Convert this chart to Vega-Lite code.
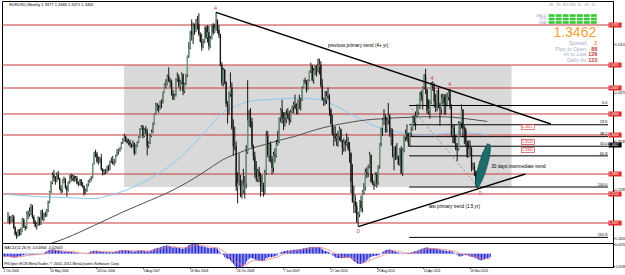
{
"$schema":"https://vega.github.io/schema/vega-lite/v6.json",
"padding":0,"spacing":0,"bounds":"flush","background":"#ffffff",
"config":{"view":{"stroke":"#000000","strokeWidth":1},"axis":{"labelFont":"Liberation Sans","labelFontSize":3.6,"labelColor":"#000000","tickSize":1.2,"tickColor":"#000000","domainColor":"#000000","labelPadding":0.4,"grid":false,"labelOverlap":false,"labelFlush":false},"axisX":{"labelOverlap":false},"text":{"font":"Liberation Sans"}},
"datasets":{
"px":[
{"w":0,"o":1.203,"h":1.216,"l":1.195,"c":1.206,"m":-0.012,"s":-0.011},
{"w":1,"o":1.206,"h":1.209,"l":1.192,"c":1.199,"m":-0.013,"s":-0.011},
{"w":2,"o":1.199,"h":1.208,"l":1.195,"c":1.202,"m":-0.013,"s":-0.012},
{"w":3,"o":1.202,"h":1.211,"l":1.197,"c":1.207,"m":-0.012,"s":-0.012},
{"w":4,"o":1.207,"h":1.21,"l":1.183,"c":1.186,"m":-0.013,"s":-0.012},
{"w":5,"o":1.186,"h":1.188,"l":1.17,"c":1.173,"m":-0.015,"s":-0.013},
{"w":6,"o":1.173,"h":1.178,"l":1.164,"c":1.169,"m":-0.017,"s":-0.013},
{"w":7,"o":1.169,"h":1.183,"l":1.168,"c":1.179,"m":-0.017,"s":-0.014},
{"w":8,"o":1.179,"h":1.183,"l":1.17,"c":1.172,"m":-0.017,"s":-0.015},
{"w":9,"o":1.172,"h":1.186,"l":1.171,"c":1.179,"m":-0.016,"s":-0.015},
{"w":10,"o":1.179,"h":1.205,"l":1.178,"c":1.201,"m":-0.013,"s":-0.015},
{"w":11,"o":1.201,"h":1.204,"l":1.185,"c":1.188,"m":-0.012,"s":-0.014},
{"w":12,"o":1.188,"h":1.19,"l":1.18,"c":1.185,"m":-0.012,"s":-0.014},
{"w":13,"o":1.185,"h":1.217,"l":1.183,"c":1.214,"m":-0.009,"s":-0.013},
{"w":14,"o":1.214,"h":1.219,"l":1.202,"c":1.212,"m":-0.007,"s":-0.012},
{"w":15,"o":1.212,"h":1.225,"l":1.207,"c":1.217,"m":-0.005,"s":-0.01},
{"w":16,"o":1.217,"h":1.232,"l":1.21,"c":1.228,"m":-0.003,"s":-0.009},
{"w":17,"o":1.228,"h":1.23,"l":1.203,"c":1.206,"m":-0.003,"s":-0.008},
{"w":18,"o":1.206,"h":1.21,"l":1.193,"c":1.196,"m":-0.004,"s":-0.007},
{"w":19,"o":1.196,"h":1.2,"l":1.186,"c":1.188,"m":-0.005,"s":-0.006},
{"w":20,"o":1.188,"h":1.196,"l":1.182,"c":1.193,"m":-0.005,"s":-0.006},
{"w":21,"o":1.193,"h":1.208,"l":1.189,"c":1.205,"m":-0.004,"s":-0.005},
{"w":22,"o":1.205,"h":1.206,"l":1.19,"c":1.192,"m":-0.004,"s":-0.005},
{"w":23,"o":1.192,"h":1.22,"l":1.191,"c":1.217,"m":-0.002,"s":-0.004},
{"w":24,"o":1.217,"h":1.221,"l":1.2,"c":1.203,"m":-0.002,"s":-0.004},
{"w":25,"o":1.203,"h":1.214,"l":1.198,"c":1.212,"m":-0.001,"s":-0.003},
{"w":26,"o":1.212,"h":1.217,"l":1.206,"c":1.21,"m":-0.001,"s":-0.003},
{"w":27,"o":1.21,"h":1.222,"l":1.207,"c":1.219,"m":0,"s":-0.002},
{"w":28,"o":1.219,"h":1.238,"l":1.216,"c":1.235,"m":0.003,"s":-0.001},
{"w":29,"o":1.235,"h":1.257,"l":1.233,"c":1.255,"m":0.007,"s":0},
{"w":30,"o":1.255,"h":1.276,"l":1.253,"c":1.273,"m":0.011,"s":0.003},
{"w":31,"o":1.273,"h":1.293,"l":1.27,"c":1.288,"m":0.015,"s":0.005},
{"w":32,"o":1.288,"h":1.298,"l":1.275,"c":1.282,"m":0.017,"s":0.008},
{"w":33,"o":1.282,"h":1.286,"l":1.269,"c":1.276,"m":0.018,"s":0.01},
{"w":34,"o":1.276,"h":1.293,"l":1.274,"c":1.289,"m":0.019,"s":0.012},
{"w":35,"o":1.289,"h":1.296,"l":1.278,"c":1.28,"m":0.019,"s":0.013},
{"w":36,"o":1.28,"h":1.283,"l":1.259,"c":1.261,"m":0.017,"s":0.014},
{"w":37,"o":1.261,"h":1.268,"l":1.252,"c":1.257,"m":0.014,"s":0.015},
{"w":38,"o":1.257,"h":1.28,"l":1.254,"c":1.279,"m":0.014,"s":0.015},
{"w":39,"o":1.279,"h":1.285,"l":1.272,"c":1.28,"m":0.013,"s":0.015},
{"w":40,"o":1.28,"h":1.282,"l":1.261,"c":1.264,"m":0.011,"s":0.014},
{"w":41,"o":1.264,"h":1.268,"l":1.246,"c":1.258,"m":0.009,"s":0.013},
{"w":42,"o":1.258,"h":1.276,"l":1.256,"c":1.274,"m":0.009,"s":0.012},
{"w":43,"o":1.274,"h":1.288,"l":1.271,"c":1.287,"m":0.009,"s":0.011},
{"w":44,"o":1.287,"h":1.291,"l":1.275,"c":1.281,"m":0.009,"s":0.011},
{"w":45,"o":1.281,"h":1.289,"l":1.277,"c":1.286,"m":0.009,"s":0.01},
{"w":46,"o":1.286,"h":1.288,"l":1.274,"c":1.277,"m":0.008,"s":0.01},
{"w":47,"o":1.277,"h":1.286,"l":1.276,"c":1.282,"m":0.008,"s":0.009},
{"w":48,"o":1.282,"h":1.286,"l":1.27,"c":1.272,"m":0.006,"s":0.009},
{"w":49,"o":1.272,"h":1.276,"l":1.266,"c":1.27,"m":0.005,"s":0.008},
{"w":50,"o":1.27,"h":1.28,"l":1.268,"c":1.279,"m":0.005,"s":0.007},
{"w":51,"o":1.279,"h":1.28,"l":1.266,"c":1.268,"m":0.003,"s":0.006},
{"w":52,"o":1.268,"h":1.274,"l":1.263,"c":1.266,"m":0.002,"s":0.005},
{"w":53,"o":1.266,"h":1.268,"l":1.248,"c":1.253,"m":0,"s":0.004},
{"w":54,"o":1.253,"h":1.261,"l":1.251,"c":1.258,"m":-0.001,"s":0.003},
{"w":55,"o":1.258,"h":1.271,"l":1.255,"c":1.27,"m":-0.001,"s":0.002},
{"w":56,"o":1.27,"h":1.278,"l":1.266,"c":1.275,"m":0,"s":0.002},
{"w":57,"o":1.275,"h":1.282,"l":1.272,"c":1.28,"m":0.001,"s":0.001},
{"w":58,"o":1.28,"h":1.286,"l":1.276,"c":1.282,"m":0.002,"s":0.001},
{"w":59,"o":1.282,"h":1.31,"l":1.281,"c":1.309,"m":0.005,"s":0.002},
{"w":60,"o":1.309,"h":1.333,"l":1.308,"c":1.33,"m":0.009,"s":0.003},
{"w":61,"o":1.33,"h":1.337,"l":1.322,"c":1.329,"m":0.012,"s":0.005},
{"w":62,"o":1.329,"h":1.333,"l":1.311,"c":1.314,"m":0.013,"s":0.007},
{"w":63,"o":1.314,"h":1.324,"l":1.308,"c":1.315,"m":0.013,"s":0.008},
{"w":64,"o":1.315,"h":1.323,"l":1.312,"c":1.32,"m":0.014,"s":0.009},
{"w":65,"o":1.32,"h":1.329,"l":1.296,"c":1.299,"m":0.012,"s":0.01},
{"w":66,"o":1.299,"h":1.301,"l":1.287,"c":1.293,"m":0.01,"s":0.01},
{"w":67,"o":1.293,"h":1.299,"l":1.288,"c":1.296,"m":0.009,"s":0.01},
{"w":68,"o":1.296,"h":1.3,"l":1.29,"c":1.296,"m":0.008,"s":0.01},
{"w":69,"o":1.296,"h":1.306,"l":1.292,"c":1.303,"m":0.007,"s":0.01},
{"w":70,"o":1.303,"h":1.308,"l":1.295,"c":1.298,"m":0.006,"s":0.009},
{"w":71,"o":1.298,"h":1.316,"l":1.297,"c":1.315,"m":0.007,"s":0.009},
{"w":72,"o":1.315,"h":1.322,"l":1.311,"c":1.314,"m":0.007,"s":0.008},
{"w":73,"o":1.314,"h":1.325,"l":1.308,"c":1.31,"m":0.006,"s":0.008},
{"w":74,"o":1.31,"h":1.319,"l":1.306,"c":1.312,"m":0.006,"s":0.007},
{"w":75,"o":1.312,"h":1.327,"l":1.311,"c":1.325,"m":0.007,"s":0.007},
{"w":76,"o":1.325,"h":1.338,"l":1.324,"c":1.333,"m":0.008,"s":0.007},
{"w":77,"o":1.333,"h":1.339,"l":1.328,"c":1.336,"m":0.01,"s":0.008},
{"w":78,"o":1.336,"h":1.342,"l":1.333,"c":1.34,"m":0.011,"s":0.008},
{"w":79,"o":1.34,"h":1.352,"l":1.338,"c":1.35,"m":0.013,"s":0.009},
{"w":80,"o":1.35,"h":1.359,"l":1.348,"c":1.355,"m":0.015,"s":0.01},
{"w":81,"o":1.355,"h":1.368,"l":1.353,"c":1.362,"m":0.016,"s":0.011},
{"w":82,"o":1.362,"h":1.364,"l":1.352,"c":1.355,"m":0.016,"s":0.012},
{"w":83,"o":1.355,"h":1.359,"l":1.349,"c":1.351,"m":0.015,"s":0.013},
{"w":84,"o":1.351,"h":1.358,"l":1.346,"c":1.353,"m":0.015,"s":0.013},
{"w":85,"o":1.353,"h":1.356,"l":1.342,"c":1.348,"m":0.014,"s":0.014},
{"w":86,"o":1.348,"h":1.349,"l":1.34,"c":1.345,"m":0.013,"s":0.014},
{"w":87,"o":1.345,"h":1.355,"l":1.342,"c":1.35,"m":0.012,"s":0.014},
{"w":88,"o":1.35,"h":1.351,"l":1.326,"c":1.331,"m":0.01,"s":0.013},
{"w":89,"o":1.331,"h":1.347,"l":1.329,"c":1.345,"m":0.01,"s":0.013},
{"w":90,"o":1.345,"h":1.353,"l":1.342,"c":1.352,"m":0.01,"s":0.012},
{"w":91,"o":1.352,"h":1.363,"l":1.35,"c":1.361,"m":0.011,"s":0.012},
{"w":92,"o":1.361,"h":1.379,"l":1.36,"c":1.377,"m":0.013,"s":0.012},
{"w":93,"o":1.377,"h":1.385,"l":1.376,"c":1.382,"m":0.015,"s":0.012},
{"w":94,"o":1.382,"h":1.385,"l":1.359,"c":1.363,"m":0.014,"s":0.012},
{"w":95,"o":1.363,"h":1.379,"l":1.361,"c":1.377,"m":0.014,"s":0.013},
{"w":96,"o":1.377,"h":1.383,"l":1.367,"c":1.372,"m":0.014,"s":0.013},
{"w":97,"o":1.372,"h":1.378,"l":1.326,"c":1.344,"m":0.011,"s":0.013},
{"w":98,"o":1.344,"h":1.353,"l":1.34,"c":1.35,"m":0.01,"s":0.013},
{"w":99,"o":1.35,"h":1.368,"l":1.348,"c":1.364,"m":0.01,"s":0.012},
{"w":100,"o":1.364,"h":1.376,"l":1.362,"c":1.372,"m":0.011,"s":0.012},
{"w":101,"o":1.372,"h":1.39,"l":1.369,"c":1.388,"m":0.013,"s":0.012},
{"w":102,"o":1.388,"h":1.408,"l":1.386,"c":1.407,"m":0.016,"s":0.012},
{"w":103,"o":1.407,"h":1.428,"l":1.405,"c":1.425,"m":0.02,"s":0.014},
{"w":104,"o":1.425,"h":1.428,"l":1.412,"c":1.423,"m":0.023,"s":0.016},
{"w":105,"o":1.423,"h":1.424,"l":1.409,"c":1.418,"m":0.024,"s":0.017},
{"w":106,"o":1.418,"h":1.432,"l":1.415,"c":1.43,"m":0.026,"s":0.019},
{"w":107,"o":1.43,"h":1.435,"l":1.418,"c":1.43,"m":0.027,"s":0.021},
{"w":108,"o":1.43,"h":1.45,"l":1.427,"c":1.449,"m":0.029,"s":0.022},
{"w":109,"o":1.449,"h":1.466,"l":1.448,"c":1.464,"m":0.032,"s":0.024},
{"w":110,"o":1.464,"h":1.474,"l":1.456,"c":1.464,"m":0.034,"s":0.026},
{"w":111,"o":1.464,"h":1.483,"l":1.462,"c":1.48,"m":0.036,"s":0.028},
{"w":112,"o":1.48,"h":1.497,"l":1.468,"c":1.47,"m":0.037,"s":0.03},
{"w":113,"o":1.47,"h":1.476,"l":1.458,"c":1.468,"m":0.037,"s":0.032},
{"w":114,"o":1.468,"h":1.473,"l":1.442,"c":1.445,"m":0.034,"s":0.033},
{"w":115,"o":1.445,"h":1.453,"l":1.433,"c":1.435,"m":0.03,"s":0.032},
{"w":116,"o":1.435,"h":1.446,"l":1.434,"c":1.443,"m":0.028,"s":0.031},
{"w":117,"o":1.443,"h":1.476,"l":1.44,"c":1.475,"m":0.028,"s":0.031},
{"w":118,"o":1.475,"h":1.487,"l":1.469,"c":1.478,"m":0.029,"s":0.03},
{"w":119,"o":1.478,"h":1.483,"l":1.458,"c":1.462,"m":0.027,"s":0.03},
{"w":120,"o":1.462,"h":1.473,"l":1.451,"c":1.468,"m":0.026,"s":0.029},
{"w":121,"o":1.468,"h":1.487,"l":1.464,"c":1.483,"m":0.026,"s":0.028},
{"w":122,"o":1.483,"h":1.485,"l":1.443,"c":1.45,"m":0.023,"s":0.027},
{"w":123,"o":1.45,"h":1.467,"l":1.447,"c":1.465,"m":0.022,"s":0.026},
{"w":124,"o":1.465,"h":1.484,"l":1.462,"c":1.482,"m":0.023,"s":0.025},
{"w":125,"o":1.482,"h":1.52,"l":1.478,"c":1.519,"m":0.027,"s":0.026},
{"w":126,"o":1.519,"h":1.546,"l":1.515,"c":1.535,"m":0.031,"s":0.027},
{"w":127,"o":1.535,"h":1.568,"l":1.532,"c":1.566,"m":0.037,"s":0.029},
{"w":128,"o":1.566,"h":1.59,"l":1.549,"c":1.56,"m":0.04,"s":0.031},
{"w":129,"o":1.56,"h":1.584,"l":1.542,"c":1.578,"m":0.043,"s":0.034},
{"w":130,"o":1.578,"h":1.582,"l":1.56,"c":1.572,"m":0.044,"s":0.036},
{"w":131,"o":1.572,"h":1.591,"l":1.565,"c":1.58,"m":0.045,"s":0.038},
{"w":132,"o":1.58,"h":1.597,"l":1.57,"c":1.58,"m":0.045,"s":0.039},
{"w":133,"o":1.58,"h":1.602,"l":1.558,"c":1.561,"m":0.043,"s":0.04},
{"w":134,"o":1.561,"h":1.565,"l":1.545,"c":1.547,"m":0.039,"s":0.04},
{"w":135,"o":1.547,"h":1.562,"l":1.529,"c":1.537,"m":0.035,"s":0.039},
{"w":136,"o":1.537,"h":1.552,"l":1.534,"c":1.547,"m":0.033,"s":0.038},
{"w":137,"o":1.547,"h":1.576,"l":1.544,"c":1.574,"m":0.033,"s":0.037},
{"w":138,"o":1.574,"h":1.578,"l":1.552,"c":1.555,"m":0.031,"s":0.036},
{"w":139,"o":1.555,"h":1.579,"l":1.545,"c":1.565,"m":0.03,"s":0.035},
{"w":140,"o":1.565,"h":1.578,"l":1.53,"c":1.538,"m":0.027,"s":0.033},
{"w":141,"o":1.538,"h":1.558,"l":1.535,"c":1.554,"m":0.025,"s":0.031},
{"w":142,"o":1.554,"h":1.58,"l":1.551,"c":1.578,"m":0.026,"s":0.03},
{"w":143,"o":1.578,"h":1.583,"l":1.56,"c":1.564,"m":0.025,"s":0.029},
{"w":144,"o":1.564,"h":1.581,"l":1.563,"c":1.573,"m":0.025,"s":0.028},
{"w":145,"o":1.573,"h":1.604,"l":1.568,"c":1.586,"m":0.026,"s":0.028},
{"w":146,"o":1.586,"h":1.59,"l":1.563,"c":1.57,"m":0.025,"s":0.027},
{"w":147,"o":1.57,"h":1.579,"l":1.554,"c":1.56,"m":0.022,"s":0.026},
{"w":148,"o":1.56,"h":1.562,"l":1.499,"c":1.501,"m":0.014,"s":0.024},
{"w":149,"o":1.501,"h":1.507,"l":1.462,"c":1.468,"m":0.004,"s":0.02},
{"w":150,"o":1.468,"h":1.496,"l":1.46,"c":1.492,"m":-0.001,"s":0.016},
{"w":151,"o":1.492,"h":1.494,"l":1.464,"c":1.468,"m":-0.007,"s":0.011},
{"w":152,"o":1.468,"h":1.47,"l":1.42,"c":1.427,"m":-0.015,"s":0.006},
{"w":153,"o":1.427,"h":1.431,"l":1.388,"c":1.425,"m":-0.021,"s":0},
{"w":154,"o":1.425,"h":1.45,"l":1.405,"c":1.445,"m":-0.024,"s":-0.005},
{"w":155,"o":1.445,"h":1.487,"l":1.44,"c":1.458,"m":-0.025,"s":-0.009},
{"w":156,"o":1.458,"h":1.468,"l":1.376,"c":1.378,"m":-0.032,"s":-0.013},
{"w":157,"o":1.378,"h":1.396,"l":1.326,"c":1.344,"m":-0.04,"s":-0.019},
{"w":158,"o":1.344,"h":1.382,"l":1.336,"c":1.344,"m":-0.046,"s":-0.024},
{"w":159,"o":1.344,"h":1.353,"l":1.257,"c":1.266,"m":-0.056,"s":-0.031},
{"w":160,"o":1.266,"h":1.293,"l":1.233,"c":1.272,"m":-0.06,"s":-0.037},
{"w":161,"o":1.272,"h":1.33,"l":1.268,"c":1.275,"m":-0.062,"s":-0.042},
{"w":162,"o":1.275,"h":1.288,"l":1.245,"c":1.258,"m":-0.063,"s":-0.046},
{"w":163,"o":1.258,"h":1.278,"l":1.242,"c":1.258,"m":-0.062,"s":-0.049},
{"w":164,"o":1.258,"h":1.3,"l":1.252,"c":1.269,"m":-0.059,"s":-0.051},
{"w":165,"o":1.269,"h":1.286,"l":1.242,"c":1.272,"m":-0.055,"s":-0.052},
{"w":166,"o":1.272,"h":1.346,"l":1.262,"c":1.332,"m":-0.047,"s":-0.051},
{"w":167,"o":1.332,"h":1.472,"l":1.329,"c":1.394,"m":-0.036,"s":-0.048},
{"w":168,"o":1.394,"h":1.414,"l":1.382,"c":1.398,"m":-0.027,"s":-0.044},
{"w":169,"o":1.398,"h":1.418,"l":1.38,"c":1.392,"m":-0.021,"s":-0.039},
{"w":170,"o":1.392,"h":1.399,"l":1.34,"c":1.344,"m":-0.02,"s":-0.035},
{"w":171,"o":1.344,"h":1.347,"l":1.316,"c":1.324,"m":-0.021,"s":-0.033},
{"w":172,"o":1.324,"h":1.333,"l":1.283,"c":1.296,"m":-0.024,"s":-0.031},
{"w":173,"o":1.296,"h":1.315,"l":1.275,"c":1.28,"m":-0.027,"s":-0.03},
{"w":174,"o":1.28,"h":1.3,"l":1.274,"c":1.296,"m":-0.028,"s":-0.03},
{"w":175,"o":1.296,"h":1.304,"l":1.274,"c":1.285,"m":-0.03,"s":-0.03},
{"w":176,"o":1.285,"h":1.292,"l":1.246,"c":1.266,"m":-0.032,"s":-0.03},
{"w":177,"o":1.266,"h":1.288,"l":1.255,"c":1.266,"m":-0.033,"s":-0.031},
{"w":178,"o":1.266,"h":1.273,"l":1.246,"c":1.255,"m":-0.034,"s":-0.031},
{"w":179,"o":1.255,"h":1.298,"l":1.25,"c":1.292,"m":-0.031,"s":-0.031},
{"w":180,"o":1.292,"h":1.374,"l":1.288,"c":1.364,"m":-0.023,"s":-0.03},
{"w":181,"o":1.364,"h":1.373,"l":1.322,"c":1.327,"m":-0.02,"s":-0.028},
{"w":182,"o":1.327,"h":1.35,"l":1.314,"c":1.348,"m":-0.016,"s":-0.025},
{"w":183,"o":1.348,"h":1.353,"l":1.312,"c":1.319,"m":-0.015,"s":-0.023},
{"w":184,"o":1.319,"h":1.325,"l":1.289,"c":1.302,"m":-0.016,"s":-0.022},
{"w":185,"o":1.302,"h":1.333,"l":1.293,"c":1.327,"m":-0.014,"s":-0.02},
{"w":186,"o":1.327,"h":1.34,"l":1.312,"c":1.325,"m":-0.013,"s":-0.019},
{"w":187,"o":1.325,"h":1.356,"l":1.322,"c":1.348,"m":-0.01,"s":-0.017},
{"w":188,"o":1.348,"h":1.374,"l":1.345,"c":1.352,"m":-0.007,"s":-0.015},
{"w":189,"o":1.352,"h":1.4,"l":1.35,"c":1.399,"m":-0.001,"s":-0.012},
{"w":190,"o":1.399,"h":1.418,"l":1.39,"c":1.415,"m":0.005,"s":-0.009},
{"w":191,"o":1.415,"h":1.434,"l":1.388,"c":1.397,"m":0.008,"s":-0.005},
{"w":192,"o":1.397,"h":1.41,"l":1.375,"c":1.399,"m":0.01,"s":-0.002},
{"w":193,"o":1.399,"h":1.41,"l":1.382,"c":1.396,"m":0.012,"s":0.001},
{"w":194,"o":1.396,"h":1.415,"l":1.389,"c":1.405,"m":0.013,"s":0.004},
{"w":195,"o":1.405,"h":1.418,"l":1.396,"c":1.399,"m":0.014,"s":0.006},
{"w":196,"o":1.399,"h":1.412,"l":1.385,"c":1.394,"m":0.014,"s":0.008},
{"w":197,"o":1.394,"h":1.415,"l":1.39,"c":1.41,"m":0.015,"s":0.009},
{"w":198,"o":1.41,"h":1.423,"l":1.408,"c":1.42,"m":0.016,"s":0.011},
{"w":199,"o":1.42,"h":1.43,"l":1.408,"c":1.425,"m":0.018,"s":0.012},
{"w":200,"o":1.425,"h":1.444,"l":1.415,"c":1.418,"m":0.018,"s":0.013},
{"w":201,"o":1.418,"h":1.427,"l":1.406,"c":1.419,"m":0.018,"s":0.014},
{"w":202,"o":1.419,"h":1.434,"l":1.405,"c":1.433,"m":0.019,"s":0.015},
{"w":203,"o":1.433,"h":1.444,"l":1.416,"c":1.434,"m":0.02,"s":0.016},
{"w":204,"o":1.434,"h":1.438,"l":1.413,"c":1.433,"m":0.02,"s":0.017},
{"w":205,"o":1.433,"h":1.46,"l":1.432,"c":1.457,"m":0.022,"s":0.018},
{"w":206,"o":1.457,"h":1.473,"l":1.456,"c":1.472,"m":0.024,"s":0.019},
{"w":207,"o":1.472,"h":1.477,"l":1.464,"c":1.469,"m":0.026,"s":0.02},
{"w":208,"o":1.469,"h":1.472,"l":1.448,"c":1.454,"m":0.026,"s":0.021},
{"w":209,"o":1.454,"h":1.474,"l":1.453,"c":1.472,"m":0.027,"s":0.022},
{"w":210,"o":1.472,"h":1.491,"l":1.47,"c":1.49,"m":0.029,"s":0.024},
{"w":211,"o":1.49,"h":1.506,"l":1.486,"c":1.5,"m":0.03,"s":0.025},
{"w":212,"o":1.5,"h":1.502,"l":1.47,"c":1.472,"m":0.03,"s":0.026},
{"w":213,"o":1.472,"h":1.496,"l":1.465,"c":1.49,"m":0.03,"s":0.027},
{"w":214,"o":1.49,"h":1.501,"l":1.482,"c":1.493,"m":0.03,"s":0.028},
{"w":215,"o":1.493,"h":1.501,"l":1.479,"c":1.493,"m":0.029,"s":0.028},
{"w":216,"o":1.493,"h":1.514,"l":1.487,"c":1.499,"m":0.029,"s":0.028},
{"w":217,"o":1.499,"h":1.514,"l":1.483,"c":1.502,"m":0.029,"s":0.029},
{"w":218,"o":1.502,"h":1.509,"l":1.458,"c":1.462,"m":0.025,"s":0.028},
{"w":219,"o":1.462,"h":1.474,"l":1.433,"c":1.434,"m":0.019,"s":0.026},
{"w":220,"o":1.434,"h":1.438,"l":1.422,"c":1.434,"m":0.015,"s":0.024},
{"w":221,"o":1.434,"h":1.451,"l":1.424,"c":1.433,"m":0.012,"s":0.022},
{"w":222,"o":1.433,"h":1.451,"l":1.426,"c":1.441,"m":0.01,"s":0.019},
{"w":223,"o":1.441,"h":1.458,"l":1.434,"c":1.438,"m":0.008,"s":0.017},
{"w":224,"o":1.438,"h":1.445,"l":1.403,"c":1.414,"m":0.004,"s":0.014},
{"w":225,"o":1.414,"h":1.418,"l":1.386,"c":1.387,"m":-0.002,"s":0.011},
{"w":226,"o":1.387,"h":1.405,"l":1.365,"c":1.368,"m":-0.008,"s":0.007},
{"w":227,"o":1.368,"h":1.382,"l":1.344,"c":1.363,"m":-0.013,"s":0.003},
{"w":228,"o":1.363,"h":1.383,"l":1.353,"c":1.36,"m":-0.017,"s":-0.001},
{"w":229,"o":1.36,"h":1.369,"l":1.344,"c":1.363,"m":-0.019,"s":-0.005},
{"w":230,"o":1.363,"h":1.374,"l":1.343,"c":1.362,"m":-0.02,"s":-0.008},
{"w":231,"o":1.362,"h":1.382,"l":1.355,"c":1.377,"m":-0.019,"s":-0.01},
{"w":232,"o":1.377,"h":1.378,"l":1.352,"c":1.353,"m":-0.02,"s":-0.012},
{"w":233,"o":1.353,"h":1.356,"l":1.327,"c":1.341,"m":-0.02,"s":-0.014},
{"w":234,"o":1.341,"h":1.359,"l":1.333,"c":1.352,"m":-0.019,"s":-0.015},
{"w":235,"o":1.352,"h":1.356,"l":1.334,"c":1.347,"m":-0.018,"s":-0.016},
{"w":236,"o":1.347,"h":1.369,"l":1.345,"c":1.351,"m":-0.018,"s":-0.016},
{"w":237,"o":1.351,"h":1.362,"l":1.335,"c":1.339,"m":-0.018,"s":-0.017},
{"w":238,"o":1.339,"h":1.352,"l":1.312,"c":1.33,"m":-0.019,"s":-0.017},
{"w":239,"o":1.33,"h":1.332,"l":1.253,"c":1.275,"m":-0.024,"s":-0.018},
{"w":240,"o":1.275,"h":1.309,"l":1.234,"c":1.237,"m":-0.031,"s":-0.021},
{"w":241,"o":1.237,"h":1.267,"l":1.214,"c":1.236,"m":-0.036,"s":-0.024},
{"w":242,"o":1.236,"h":1.249,"l":1.214,"c":1.228,"m":-0.04,"s":-0.027},
{"w":243,"o":1.228,"h":1.236,"l":1.195,"c":1.197,"m":-0.045,"s":-0.031},
{"w":244,"o":1.197,"h":1.217,"l":1.188,"c":1.211,"m":-0.047,"s":-0.034},
{"w":245,"o":1.211,"h":1.239,"l":1.206,"c":1.238,"m":-0.046,"s":-0.036},
{"w":246,"o":1.238,"h":1.248,"l":1.217,"c":1.224,"m":-0.045,"s":-0.038},
{"w":247,"o":1.224,"h":1.259,"l":1.215,"c":1.257,"m":-0.042,"s":-0.039},
{"w":248,"o":1.257,"h":1.272,"l":1.25,"c":1.264,"m":-0.038,"s":-0.039},
{"w":249,"o":1.264,"h":1.3,"l":1.258,"c":1.294,"m":-0.032,"s":-0.037},
{"w":250,"o":1.294,"h":1.303,"l":1.282,"c":1.291,"m":-0.027,"s":-0.035},
{"w":251,"o":1.291,"h":1.308,"l":1.284,"c":1.303,"m":-0.021,"s":-0.032},
{"w":252,"o":1.303,"h":1.333,"l":1.301,"c":1.327,"m":-0.015,"s":-0.029},
{"w":253,"o":1.327,"h":1.328,"l":1.273,"c":1.275,"m":-0.013,"s":-0.026},
{"w":254,"o":1.275,"h":1.29,"l":1.269,"c":1.271,"m":-0.011,"s":-0.023},
{"w":255,"o":1.271,"h":1.277,"l":1.259,"c":1.268,"m":-0.01,"s":-0.02},
{"w":256,"o":1.268,"h":1.293,"l":1.266,"c":1.289,"m":-0.009,"s":-0.018},
{"w":257,"o":1.289,"h":1.293,"l":1.263,"c":1.272,"m":-0.008,"s":-0.016},
{"w":258,"o":1.272,"h":1.307,"l":1.269,"c":1.305,"m":-0.005,"s":-0.014},
{"w":259,"o":1.305,"h":1.35,"l":1.3,"c":1.349,"m":0,"s":-0.011},
{"w":260,"o":1.349,"h":1.38,"l":1.344,"c":1.379,"m":0.006,"s":-0.008},
{"w":261,"o":1.379,"h":1.398,"l":1.364,"c":1.395,"m":0.011,"s":-0.004},
{"w":262,"o":1.395,"h":1.416,"l":1.385,"c":1.397,"m":0.015,"s":0},
{"w":263,"o":1.397,"h":1.406,"l":1.37,"c":1.396,"m":0.017,"s":0.004},
{"w":264,"o":1.396,"h":1.401,"l":1.37,"c":1.394,"m":0.018,"s":0.007},
{"w":265,"o":1.394,"h":1.428,"l":1.386,"c":1.403,"m":0.019,"s":0.01},
{"w":266,"o":1.403,"h":1.406,"l":1.362,"c":1.369,"m":0.017,"s":0.012},
{"w":267,"o":1.369,"h":1.379,"l":1.345,"c":1.368,"m":0.015,"s":0.013},
{"w":268,"o":1.368,"h":1.378,"l":1.322,"c":1.324,"m":0.012,"s":0.013},
{"w":269,"o":1.324,"h":1.342,"l":1.297,"c":1.342,"m":0.01,"s":0.012},
{"w":270,"o":1.342,"h":1.345,"l":1.317,"c":1.323,"m":0.007,"s":0.012},
{"w":271,"o":1.323,"h":1.35,"l":1.318,"c":1.324,"m":0.005,"s":0.011},
{"w":272,"o":1.324,"h":1.326,"l":1.307,"c":1.309,"m":0.002,"s":0.009},
{"w":273,"o":1.309,"h":1.34,"l":1.306,"c":1.338,"m":0.002,"s":0.008},
{"w":274,"o":1.338,"h":1.344,"l":1.29,"c":1.291,"m":-0.002,"s":0.006},
{"w":275,"o":1.291,"h":1.34,"l":1.286,"c":1.337,"m":-0.002,"s":0.004},
{"w":276,"o":1.337,"h":1.364,"l":1.332,"c":1.361,"m":0.001,"s":0.003},
{"w":277,"o":1.361,"h":1.376,"l":1.354,"c":1.369,"m":0.003,"s":0.002},
{"w":278,"o":1.369,"h":1.386,"l":1.353,"c":1.358,"m":0.004,"s":0.002},
{"w":279,"o":1.358,"h":1.37,"l":1.343,"c":1.35,"m":0.004,"s":0.002},
{"w":280,"o":1.35,"h":1.37,"l":1.343,"c":1.369,"m":0.006,"s":0.003},
{"w":281,"o":1.369,"h":1.382,"l":1.363,"c":1.375,"m":0.008,"s":0.004},
{"w":282,"o":1.375,"h":1.403,"l":1.374,"c":1.4,"m":0.011,"s":0.006},
{"w":283,"o":1.4,"h":1.404,"l":1.383,"c":1.39,"m":0.012,"s":0.007},
{"w":284,"o":1.39,"h":1.411,"l":1.375,"c":1.402,"m":0.014,"s":0.008},
{"w":285,"o":1.402,"h":1.425,"l":1.4,"c":1.409,"m":0.016,"s":0.01},
{"w":286,"o":1.409,"h":1.425,"l":1.405,"c":1.423,"m":0.019,"s":0.012},
{"w":287,"o":1.423,"h":1.449,"l":1.416,"c":1.448,"m":0.022,"s":0.014},
{"w":288,"o":1.448,"h":1.452,"l":1.432,"c":1.443,"m":0.024,"s":0.016},
{"w":289,"o":1.443,"h":1.46,"l":1.415,"c":1.458,"m":0.026,"s":0.018},
{"w":290,"o":1.458,"h":1.484,"l":1.454,"c":1.481,"m":0.028,"s":0.02},
{"w":291,"o":1.481,"h":1.494,"l":1.445,"c":1.454,"m":0.028,"s":0.022},
{"w":292,"o":1.454,"h":1.455,"l":1.407,"c":1.412,"m":0.026,"s":0.023},
{"w":293,"o":1.412,"h":1.435,"l":1.405,"c":1.416,"m":0.024,"s":0.023},
{"w":294,"o":1.416,"h":1.433,"l":1.397,"c":1.427,"m":0.022,"s":0.023},
{"w":295,"o":1.427,"h":1.468,"l":1.426,"c":1.464,"m":0.023,"s":0.023},
{"w":296,"o":1.464,"h":1.47,"l":1.451,"c":1.458,"m":0.023,"s":0.023},
{"w":297,"o":1.458,"h":1.466,"l":1.419,"c":1.431,"m":0.021,"s":0.023},
{"w":298,"o":1.431,"h":1.445,"l":1.41,"c":1.419,"m":0.019,"s":0.022},
{"w":299,"o":1.419,"h":1.453,"l":1.412,"c":1.452,"m":0.019,"s":0.021},
{"w":300,"o":1.452,"h":1.458,"l":1.418,"c":1.419,"m":0.017,"s":0.021},
{"w":301,"o":1.419,"h":1.428,"l":1.384,"c":1.415,"m":0.015,"s":0.02},
{"w":302,"o":1.415,"h":1.445,"l":1.406,"c":1.437,"m":0.014,"s":0.019},
{"w":303,"o":1.437,"h":1.446,"l":1.425,"c":1.44,"m":0.014,"s":0.018},
{"w":304,"o":1.44,"h":1.445,"l":1.405,"c":1.428,"m":0.012,"s":0.017},
{"w":305,"o":1.428,"h":1.445,"l":1.405,"c":1.424,"m":0.011,"s":0.016},
{"w":306,"o":1.424,"h":1.448,"l":1.421,"c":1.439,"m":0.011,"s":0.015},
{"w":307,"o":1.439,"h":1.452,"l":1.433,"c":1.45,"m":0.011,"s":0.014},
{"w":308,"o":1.45,"h":1.455,"l":1.415,"c":1.42,"m":0.009,"s":0.013},
{"w":309,"o":1.42,"h":1.425,"l":1.364,"c":1.365,"m":0.004,"s":0.011},
{"w":310,"o":1.365,"h":1.385,"l":1.35,"c":1.379,"m":0.002,"s":0.01},
{"w":311,"o":1.379,"h":1.385,"l":1.349,"c":1.35,"m":-0.004,"s":0.007},
{"w":312,"o":1.35,"h":1.366,"l":1.336,"c":1.339,"m":-0.009,"s":0.004},
{"w":313,"o":1.339,"h":1.35,"l":1.315,"c":1.337,"m":-0.013,"s":0},
{"w":314,"o":1.337,"h":1.392,"l":1.335,"c":1.388,"m":-0.012,"s":-0.002},
{"w":315,"o":1.388,"h":1.392,"l":1.365,"c":1.389,"m":-0.01,"s":-0.004},
{"w":316,"o":1.389,"h":1.425,"l":1.378,"c":1.415,"m":-0.006,"s":-0.004},
{"w":317,"o":1.415,"h":1.416,"l":1.361,"c":1.378,"m":-0.006,"s":-0.005},
{"w":318,"o":1.378,"h":1.384,"l":1.348,"c":1.375,"m":-0.007,"s":-0.005},
{"w":319,"o":1.375,"h":1.38,"l":1.343,"c":1.352,"m":-0.009,"s":-0.006},
{"w":320,"o":1.352,"h":1.355,"l":1.321,"c":1.324,"m":-0.013,"s":-0.007},
{"w":321,"o":1.324,"h":1.355,"l":1.322,"c":1.339,"m":-0.014,"s":-0.009},
{"w":322,"o":1.339,"h":1.355,"l":1.326,"c":1.338,"m":-0.015,"s":-0.01},
{"w":323,"o":1.338,"h":1.342,"l":1.295,"c":1.304,"m":-0.018,"s":-0.012},
{"w":324,"o":1.304,"h":1.312,"l":1.298,"c":1.305,"m":-0.02,"s":-0.013},
{"w":325,"o":1.305,"h":1.312,"l":1.286,"c":1.296,"m":-0.023,"s":-0.015},
{"w":326,"o":1.296,"h":1.296,"l":1.266,"c":1.272,"m":-0.027,"s":-0.017},
{"w":327,"o":1.272,"h":1.288,"l":1.262,"c":1.267,"m":-0.03,"s":-0.02},
{"w":328,"o":1.267,"h":1.296,"l":1.266,"c":1.294,"m":-0.03,"s":-0.022},
{"w":329,"o":1.294,"h":1.315,"l":1.287,"c":1.313,"m":-0.028,"s":-0.023},
{"w":330,"o":1.313,"h":1.323,"l":1.298,"c":1.316,"m":-0.025,"s":-0.024},
{"w":331,"o":1.316,"h":1.332,"l":1.303,"c":1.32,"m":-0.022,"s":-0.023},
{"w":332,"o":1.32,"h":1.328,"l":1.298,"c":1.314,"m":-0.021,"s":-0.023},
{"w":333,"o":1.314,"h":1.344,"l":1.312,"c":1.338,"m":-0.018,"s":-0.022},
{"w":334,"o":1.338,"h":1.349,"l":1.337,"c":1.346,"m":-0.015,"s":-0.02}
],
"ma":[
{"w":0,"a":1.25,"b":1.125},{"w":10,"a":1.248,"b":1.135},{"w":20,"a":1.246,"b":1.145},{"w":30,"a":1.245,"b":1.155},{"w":40,"a":1.244,"b":1.165},{"w":50,"a":1.243,"b":1.177},{"w":60,"a":1.242,"b":1.19},{"w":70,"a":1.248,"b":1.203},{"w":80,"a":1.256,"b":1.216},{"w":90,"a":1.268,"b":1.228},{"w":100,"a":1.283,"b":1.24},{"w":110,"a":1.3,"b":1.252},{"w":120,"a":1.322,"b":1.266},{"w":130,"a":1.35,"b":1.282},{"w":140,"a":1.38,"b":1.3},{"w":150,"a":1.41,"b":1.318},{"w":160,"a":1.423,"b":1.33},{"w":170,"a":1.432,"b":1.34},{"w":180,"a":1.434,"b":1.348},{"w":190,"a":1.436,"b":1.356},{"w":200,"a":1.437,"b":1.363},{"w":210,"a":1.436,"b":1.372},{"w":220,"a":1.432,"b":1.38},{"w":230,"a":1.42,"b":1.386},{"w":240,"a":1.405,"b":1.391},{"w":250,"a":1.39,"b":1.395},{"w":260,"a":1.378,"b":1.397},{"w":270,"a":1.372,"b":1.399},{"w":280,"a":1.368,"b":1.4},{"w":290,"a":1.365,"b":1.401},{"w":300,"a":1.367,"b":1.401},{"w":310,"a":1.37,"b":1.4},{"w":320,"a":1.37,"b":1.397},{"w":334,"a":1.366,"b":1.392}
],
"zone":[{"w":80.9,"w2":350.9,"p":1.2646,"p2":1.501}],
"red":[{"p":1.5792},{"p":1.5015},{"p":1.4569},{"p":1.4064},{"p":1.3656},{"p":1.2899},{"p":1.251},{"p":1.1947}],
"fib":[{"w":279.6,"p":1.4229,"t":"0.0"},{"w":279.6,"p":1.3855,"t":"23.6"},{"w":279.6,"p":1.3624,"t":"38.2"},{"w":279.6,"p":1.3438,"t":"50.0"},{"w":279.6,"p":1.3251,"t":"61.8"},{"w":279.6,"p":1.2646,"t":"100.0"},{"w":279.6,"p":1.1668,"t":"161.8"}],
"fd":[{"w":279.6,"p":1.4229},{"w":327.6,"p":1.2646}],
"tl":[{"g":1,"w":145,"p":1.6038},{"g":1,"w":378.3,"p":1.387},{"g":2,"w":244.1,"p":1.1876},{"g":2,"w":360.5,"p":1.2899}],
"ann":[{"w":244,"p":1.5384,"t":"previous primary trend (4+ yr)"},{"w":311,"p":1.2258,"t":"last primary trend (1.5 yr)"},{"w":355.7,"p":1.3035,"t":"30 days intermediate trend"}],
"wl":[{"w":144.6,"p":1.6122,"t":"4"},{"w":295.4,"p":1.4763,"t":"4"},{"w":307.7,"p":1.4646,"t":"4"},{"w":244,"p":1.1792,"t":"0"},{"w":329,"p":1.253,"t":"0"}],
"ell":[{"w":331,"p":1.3064}],
"ib":[{"w":357.5,"p":1.3811},{"w":357.5,"p":1.352},{"w":357.5,"p":1.3365}],
"cur":[{"p":1.3462}],
"hdr":[{"w":378.8,"p":1.618,"t":"M1"},{"w":383.7,"p":1.618,"t":"M5"},{"w":388.6,"p":1.618,"t":"M15"},{"w":393.5,"p":1.618,"t":"M30"},{"w":398.4,"p":1.618,"t":"H1"},{"w":403.3,"p":1.618,"t":"H4"},{"w":408.2,"p":1.618,"t":"D1"}],
"rl":[{"w":374.9,"p":1.5976,"t":"MACD"},{"w":374.9,"p":1.5908,"t":"STR"},{"w":374.9,"p":1.5841,"t":"EMA"}],
"blk":[{"w":378.8,"p":1.5976},{"w":383.7,"p":1.5976},{"w":388.6,"p":1.5976},{"w":393.5,"p":1.5976},{"w":398.4,"p":1.5976},{"w":403.3,"p":1.5976},{"w":408.2,"p":1.5976},
{"w":378.8,"p":1.5908},{"w":383.7,"p":1.5908},{"w":388.6,"p":1.5908},{"w":393.5,"p":1.5908},{"w":398.4,"p":1.5908},{"w":403.3,"p":1.5908},{"w":408.2,"p":1.5908},
{"w":378.8,"p":1.5841},{"w":383.7,"p":1.5841},{"w":388.6,"p":1.5841},{"w":393.5,"p":1.5841},{"w":398.4,"p":1.5841},{"w":403.3,"p":1.5841},{"w":408.2,"p":1.5841}],
"st":[{"w":403,"p":1.5435,"t":"Spread","v":"2"},{"w":403,"p":1.533,"t":"Pips to Open","v":"88"},{"w":403,"p":1.5225,"t":"Hi to Low","v":"128"},{"w":403,"p":1.512,"t":"Daily Av","v":"123"}]
},
"vconcat":[
{"width":611,"height":242,
"layer":[
{"data":{"name":"zone"},"mark":{"type":"rect","color":"#d9d9d9"},
 "encoding":{"x":{"field":"w","type":"quantitative","scale":{"domain":[-0.7,418.1],"nice":false,"zero":false},"axis":null},"x2":{"field":"w2"},
 "y":{"field":"p","type":"quantitative","scale":{"domain":[1.1559,1.6258],"nice":false,"zero":false},
   "axis":{"orient":"right","values":[1.1655,1.189,1.2125,1.236,1.2595,1.283,1.3065,1.33,1.3535,1.377,1.4005,1.424,1.4475,1.471,1.4945,1.518,1.5415,1.565,1.5885,1.612],"format":".4f","labelAlign":"left","labelBaseline":"middle","labelFontSize":3.5,"labelOverlap":false,"title":null}},
 "y2":{"field":"p2"}}},
{"data":{"name":"red"},"mark":{"type":"rule","color":"#c43c3c","strokeWidth":1.1},
 "encoding":{"y":{"field":"p","type":"quantitative"}}},
{"data":{"name":"fib"},"mark":{"type":"rule","color":"#000000","strokeWidth":1},
 "encoding":{"x":{"field":"w","type":"quantitative","axis":null},"x2":{"datum":418.1},"y":{"field":"p","type":"quantitative"}}},
{"data":{"name":"fib"},"mark":{"type":"text","align":"right","baseline":"bottom","fontSize":3.8,"dy":-0.3,"color":"#000000"},
 "encoding":{"x":{"datum":417.6,"type":"quantitative","axis":null},"y":{"field":"p","type":"quantitative"},"text":{"field":"t"}}},
{"data":{"name":"fd"},"mark":{"type":"line","color":"#777777","strokeWidth":0.8,"strokeDash":[2,2]},
 "encoding":{"x":{"field":"w","type":"quantitative","axis":null},"y":{"field":"p","type":"quantitative"}}},
{"data":{"name":"ma"},"mark":{"type":"line","color":"#8cc8ee","strokeWidth":1,"interpolate":"monotone","clip":true},
 "encoding":{"x":{"field":"w","type":"quantitative","axis":null},"y":{"field":"a","type":"quantitative"}}},
{"data":{"name":"ma"},"mark":{"type":"line","color":"#505050","strokeWidth":1,"interpolate":"monotone","clip":true},
 "encoding":{"x":{"field":"w","type":"quantitative","axis":null},"y":{"field":"b","type":"quantitative"}}},
{"data":{"name":"px"},"mark":{"type":"rule","color":"#000000","strokeWidth":0.9},
 "encoding":{"x":{"field":"w","type":"quantitative","axis":null},"y":{"field":"l","type":"quantitative"},"y2":{"field":"h"}}},
{"data":{"name":"px"},"mark":{"type":"bar","size":1.3},
 "encoding":{"x":{"field":"w","type":"quantitative","axis":null},"y":{"field":"o","type":"quantitative"},"y2":{"field":"c"},
 "color":{"condition":{"test":"datum.c >= datum.o","value":"#6e9a78"},"value":"#151515"}}},
{"data":{"name":"tl"},"mark":{"type":"line","color":"#000000","strokeWidth":1.4},
 "encoding":{"x":{"field":"w","type":"quantitative","axis":null},"y":{"field":"p","type":"quantitative"},"detail":{"field":"g","type":"nominal"}}},
{"data":{"name":"ell"},"mark":{"type":"point","shape":"M0,-1C0.25,-1 0.25,1 0,1C-0.25,1 -0.25,-1 0,-1Z","size":2000,"angle":16,"filled":true,"fill":"#1d6b6b","stroke":"#0e4a4a","strokeWidth":0.6,"opacity":1},
 "encoding":{"x":{"field":"w","type":"quantitative","axis":null},"y":{"field":"p","type":"quantitative"}}},
{"data":{"name":"ann"},"mark":{"type":"text","fontSize":4.6,"color":"#000000","baseline":"middle"},
 "encoding":{"x":{"field":"w","type":"quantitative","axis":null},"y":{"field":"p","type":"quantitative"},"text":{"field":"t"}}},
{"data":{"name":"wl"},"mark":{"type":"text","fontSize":6,"color":"#c84a4a","baseline":"middle"},
 "encoding":{"x":{"field":"w","type":"quantitative","axis":null},"y":{"field":"p","type":"quantitative"},"text":{"field":"t"}}},
{"data":{"name":"ib"},"mark":{"type":"rule","strokeWidth":5.4,"color":"#d03030","strokeCap":"butt"},
 "encoding":{"x":{"field":"w","type":"quantitative","axis":null},"x2":{"datum":367},"y":{"field":"p","type":"quantitative"}}},
{"data":{"name":"ib"},"mark":{"type":"rule","strokeWidth":4.2,"color":"#ffffff","strokeCap":"butt"},
 "encoding":{"x":{"datum":357.9,"type":"quantitative","axis":null},"x2":{"datum":366.6},"y":{"field":"p","type":"quantitative"}}},
{"data":{"name":"ib"},"mark":{"type":"text","fontSize":3.6,"color":"#d03030","align":"left","baseline":"middle","dx":1},
 "encoding":{"x":{"field":"w","type":"quantitative","axis":null},"y":{"field":"p","type":"quantitative"},"text":{"field":"p","format":".4f"}}},
{"data":{"name":"red"},"mark":{"type":"rule","strokeWidth":5,"color":"#e03030","strokeCap":"butt"},
 "encoding":{"x":{"datum":418.4,"type":"quantitative","axis":null},"x2":{"datum":427.6},"y":{"field":"p","type":"quantitative"}}},
{"data":{"name":"red"},"mark":{"type":"text","fontSize":3.2,"color":"#ffffff","align":"left","baseline":"middle"},
 "encoding":{"x":{"datum":418.7,"type":"quantitative","axis":null},"y":{"field":"p","type":"quantitative"},"text":{"field":"p","format":".4f"}}},
{"data":{"name":"cur"},"mark":{"type":"rule","strokeWidth":5,"color":"#000000","strokeCap":"butt"},
 "encoding":{"x":{"datum":418.4,"type":"quantitative","axis":null},"x2":{"datum":427.6},"y":{"field":"p","type":"quantitative"}}},
{"data":{"name":"cur"},"mark":{"type":"text","fontSize":3.2,"color":"#ffffff","align":"left","baseline":"middle"},
 "encoding":{"x":{"datum":418.7,"type":"quantitative","axis":null},"y":{"field":"p","type":"quantitative"},"text":{"field":"p","format":".4f"}}},
{"data":{"values":[{"t":"EURUSD,Weekly  1.3377 1.3486 1.3371 1.3462"}]},"mark":{"type":"text","fontSize":4,"align":"left","baseline":"middle","color":"#000000"},
 "encoding":{"x":{"datum":0.8,"type":"quantitative","axis":null},"y":{"datum":1.6178,"type":"quantitative"},"text":{"field":"t"}}},
{"data":{"name":"hdr"},"mark":{"type":"text","fontSize":3,"color":"#9098a8","baseline":"middle"},
 "encoding":{"x":{"field":"w","type":"quantitative","axis":null},"y":{"field":"p","type":"quantitative"},"text":{"field":"t"}}},
{"data":{"name":"rl"},"mark":{"type":"text","fontSize":3.2,"color":"#9aa2c0","align":"right","baseline":"middle"},
 "encoding":{"x":{"field":"w","type":"quantitative","axis":null},"y":{"field":"p","type":"quantitative"},"text":{"field":"t"}}},
{"data":{"name":"blk"},"mark":{"type":"point","shape":"M-1,-0.45H1V0.45H-1Z","size":36,"filled":true,"fill":"#3cc83c","opacity":1,"strokeWidth":0},
 "encoding":{"x":{"field":"w","type":"quantitative","axis":null},"y":{"field":"p","type":"quantitative"}}},
{"data":{"values":[{"t":"1.3462"}]},"mark":{"type":"text","fontSize":14,"align":"right","baseline":"alphabetic","color":"#f0a234"},
 "encoding":{"x":{"datum":409.9,"type":"quantitative","axis":null},"y":{"datum":1.5564,"type":"quantitative"},"text":{"field":"t"}}},
{"data":{"name":"st"},"mark":{"type":"text","fontSize":5.4,"align":"right","baseline":"middle","color":"#a8b2cc"},
 "encoding":{"x":{"field":"w","type":"quantitative","axis":null},"y":{"field":"p","type":"quantitative"},"text":{"field":"t"}}},
{"data":{"name":"st"},"mark":{"type":"text","fontSize":5.4,"align":"right","baseline":"middle","fontWeight":"bold"},
 "encoding":{"x":{"datum":410.6,"type":"quantitative","axis":null},"y":{"field":"p","type":"quantitative"},"text":{"field":"v"},
 "color":{"condition":{"test":"datum.t=='Spread'","value":"#f0a234"},"value":"#c04040"}}}
]},
{"width":611,"height":24,
"layer":[
{"data":{"name":"px"},"mark":{"type":"rule","color":"#1a1ad0","strokeWidth":1},
 "encoding":{"x":{"field":"w","type":"quantitative","scale":{"domain":[-0.7,418.1],"nice":false,"zero":false},
   "axis":{"orient":"bottom","values":[0,16,32,48,64,80,96,112,128,144,160,176,192,208,224,240,256,272,288,304,320],"labelExpr":"timeFormat(datetime(2005,9,2+datum.value*7),'%-d %b %Y')","labelAlign":"left","labelFontSize":3.2,"labelOverlap":false,"labelSeparation":0,"title":null}},
 "y":{"field":"m","type":"quantitative","scale":{"domain":[-0.06,0.048],"nice":false,"zero":false},
   "axis":{"orient":"right","values":[0.0445,0,-0.0565],"labelExpr":"datum.value==0?'0.00':datum.value>0?'0.04758':'-0.05492'","labelAlign":"left","labelBaseline":"middle","labelFontSize":3,"labelOverlap":false,"title":null}},
 "y2":{"datum":0}}},
{"data":{"name":"px"},"mark":{"type":"line","color":"#e87a7a","strokeWidth":0.8},
 "encoding":{"x":{"field":"w","type":"quantitative"},"y":{"field":"s","type":"quantitative"}}},
{"data":{"values":[{"t":"MACD(12,26,9) -0.01866 -0.02663"}]},"mark":{"type":"text","fontSize":3.8,"align":"left","baseline":"middle","color":"#000000"},
 "encoding":{"x":{"datum":0.8,"type":"quantitative"},"y":{"datum":0.0265,"type":"quantitative"},"text":{"field":"t"}}},
{"data":{"values":[{"t":"FXOpen ECN MetaTrader, © 2001-2011 MetaQuotes Software Corp."}]},"mark":{"type":"text","fontSize":3.8,"align":"left","baseline":"middle","color":"#000000"},
 "encoding":{"x":{"datum":0.8,"type":"quantitative"},"y":{"datum":-0.047,"type":"quantitative"},"text":{"field":"t"}}}
]}
]
}
